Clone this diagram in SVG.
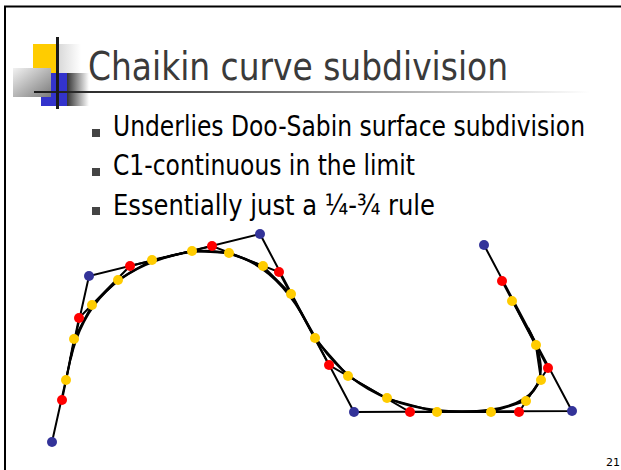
<svg xmlns="http://www.w3.org/2000/svg" width="621" height="470" viewBox="0 0 621 470">
<defs>
<linearGradient id="gRight" x1="0" y1="0" x2="1" y2="0"><stop offset="0" stop-color="#d8d8d8"/><stop offset="1" stop-color="#ffffff"/></linearGradient>
<linearGradient id="gDark" x1="0" y1="0" x2="1" y2="0"><stop offset="0" stop-color="#333333"/><stop offset="1" stop-color="#ffffff"/></linearGradient>
<linearGradient id="gDiag" x1="0" y1="0" x2="1" y2="1"><stop offset="0" stop-color="#f2f2f2"/><stop offset="1" stop-color="#7a7a7a"/></linearGradient>
<linearGradient id="gLine" x1="34" y1="0" x2="590" y2="0" gradientUnits="userSpaceOnUse"><stop offset="0" stop-color="#1a1a1a"/><stop offset="0.3" stop-color="#555555"/><stop offset="1" stop-color="#ffffff"/></linearGradient>
</defs>
<style>
.title{font-family:"DejaVu Sans Condensed","DejaVu Sans",sans-serif;font-size:39px;fill:#3a3a3a}
.body{font-family:"DejaVu Sans Condensed","DejaVu Sans",sans-serif;font-size:28px;fill:#000}
.pg{font-family:"DejaVu Sans","Liberation Sans",sans-serif;font-size:11px;fill:#000}
.bul{fill:#444}
.poly{fill:none;stroke:#000;stroke-width:2;stroke-linejoin:miter}
.curve{fill:none;stroke:#000;stroke-width:2.5}
.b{fill:#333399}
.r{fill:#ff0000}
.y{fill:#ffcc00}
</style>
<rect width="621" height="470" fill="#fff"/>
<g id="frame">
<line x1="5" y1="6" x2="5" y2="470" stroke="#000" stroke-width="2"/>
<line x1="4" y1="6.5" x2="621" y2="6.5" stroke="#000" stroke-width="2"/>
</g>
<g id="logo">
<rect x="58" y="44" width="23" height="29" fill="url(#gRight)"/>
<rect x="33" y="44" width="25" height="29" fill="#ffcc00"/>
<rect x="41" y="73" width="26" height="33" fill="#3333cc"/>
<rect x="67" y="73" width="22" height="33" fill="url(#gDark)"/>
<rect x="13" y="68" width="38" height="29" fill="url(#gDiag)"/>
<line x1="34" y1="92" x2="590" y2="92" stroke="url(#gLine)" stroke-width="2"/>
<line x1="57.5" y1="37" x2="57.5" y2="109" stroke="#1a1a1a" stroke-width="3"/>
</g>
<g id="title"><text class="title" x="88" y="80" textLength="420" lengthAdjust="spacingAndGlyphs">Chaikin curve subdivision</text></g>
<g id="bullets">
<rect class="bul" x="92" y="129" width="8" height="8"/>
<text class="body" x="113" y="136" textLength="472" lengthAdjust="spacingAndGlyphs">Underlies Doo-Sabin surface subdivision</text>
<rect class="bul" x="92" y="168" width="8" height="8"/>
<text class="body" x="113" y="175" textLength="302" lengthAdjust="spacingAndGlyphs">C1-continuous in the limit</text>
<rect class="bul" x="92" y="207" width="8" height="8"/>
<text class="body" x="113" y="215" textLength="322" lengthAdjust="spacingAndGlyphs">Essentially just a ¼-¾ rule</text>
</g>
<g id="connectors">
<polyline class="poly" points="52,442 89,276 260,234 354,412 572,411 484,245"/>
<polyline class="poly" points="62,400 79,318 130,266 212,246 279,272 329,365 410,412 519,412 548,368 502,281"/>
<polyline class="poly" points="66,380 74,339 92,305 118,280 152,260 192,251 229,253 263,266 291,294 316,340 348,376 388,399 437,412 491,412 526,401 541,380 536,346 513,302"/>
<path class="curve" d="M70.5 359 Q89 276 174.5 255 Q260 234 307 323 Q354 412 463 411.5 Q572 411 528 328"/>
</g>
<g id="points">
<circle class="b" cx="52" cy="442" r="5"/>
<circle class="b" cx="89" cy="276" r="5"/>
<circle class="b" cx="260" cy="234" r="5"/>
<circle class="b" cx="354" cy="412" r="5"/>
<circle class="b" cx="572" cy="411" r="5"/>
<circle class="b" cx="484" cy="245" r="5"/>
<circle class="r" cx="62" cy="400" r="5"/>
<circle class="r" cx="79" cy="318" r="5"/>
<circle class="r" cx="130" cy="266" r="5"/>
<circle class="r" cx="212" cy="246" r="5"/>
<circle class="r" cx="279" cy="272" r="5"/>
<circle class="r" cx="329" cy="365" r="5"/>
<circle class="r" cx="410" cy="412" r="5"/>
<circle class="r" cx="519" cy="412" r="5"/>
<circle class="r" cx="548" cy="368" r="5"/>
<circle class="r" cx="502" cy="281" r="5"/>
<circle class="y" cx="66" cy="380" r="5"/>
<circle class="y" cx="74" cy="339" r="5"/>
<circle class="y" cx="92" cy="305" r="5"/>
<circle class="y" cx="118" cy="280" r="5"/>
<circle class="y" cx="152" cy="260" r="5"/>
<circle class="y" cx="192" cy="251" r="5"/>
<circle class="y" cx="229" cy="253" r="5"/>
<circle class="y" cx="263" cy="266" r="5"/>
<circle class="y" cx="291" cy="294" r="5"/>
<circle class="y" cx="315" cy="338" r="5"/>
<circle class="y" cx="348" cy="376" r="5"/>
<circle class="y" cx="387" cy="398" r="5"/>
<circle class="y" cx="437" cy="412" r="5"/>
<circle class="y" cx="491" cy="412" r="5"/>
<circle class="y" cx="526" cy="401" r="5"/>
<circle class="y" cx="541" cy="380" r="5"/>
<circle class="y" cx="536" cy="345" r="5"/>
<circle class="y" cx="512" cy="301" r="5"/>
</g>
<g id="pagenum"><text class="pg" x="620" y="466" text-anchor="end">21</text></g>
</svg>
